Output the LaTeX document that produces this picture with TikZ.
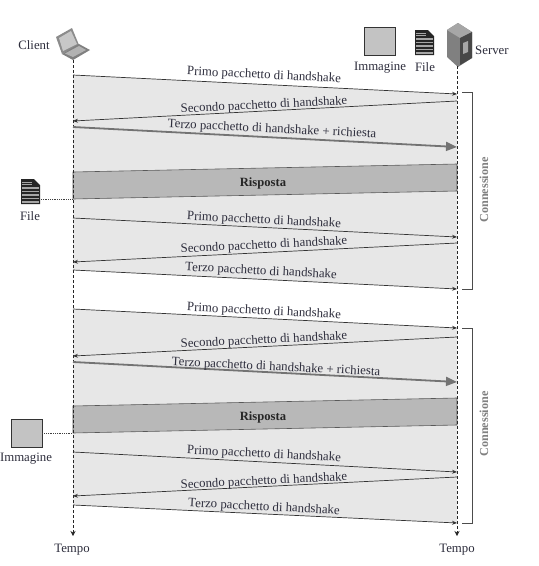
\documentclass[tikz,border=0pt]{standalone}
\usepackage{fontspec}
\setmainfont{Liberation Serif}
\usetikzlibrary{arrows.meta}
\definecolor{lbl}{RGB}{45,45,60}
\definecolor{lightband}{RGB}{231,231,231}
\definecolor{darkband}{RGB}{184,184,184}
\definecolor{imgfill}{RGB}{195,195,195}
\tikzset{
  x=1pt,y=-1pt,
  lab/.style={font=\fontsize{12.8}{14}\selectfont,text=lbl,inner sep=0pt,yshift=-1.5pt},
  msg/.style={draw=black!80,line width=0.7pt,-{Stealth[length=5pt,width=4pt]}},
  bigmsg/.style={draw=black!55,line width=1.8pt,-{Stealth[length=11pt,width=9pt,inset=0pt]}},
  life/.style={draw=black!85,line width=0.8pt,densely dashed},
  link/.style={draw=black!75,line width=0.8pt,densely dotted},
  brace/.style={draw=black!70,line width=0.8pt},
  band/.style={draw=none,fill=lightband},
  dband/.style={draw=black!65,line width=0.6pt,fill=darkband},
  imgbox/.style={draw=black!80,line width=0.9pt,fill=imgfill,minimum width=#1,minimum height=#1*0.9,inner sep=0pt},
  conn/.style={font=\fontsize{12.2}{14}\selectfont\bfseries,text=black!50,rotate=90,inner sep=0pt},
  resp/.style={font=\fontsize{12.6}{14}\selectfont\bfseries,text=black!85,inner sep=0pt,yshift=-1pt},
}
\newcommand{\fileicon}[2]{%
  \fill[black!85] (#1,#2) -- ++(13,0) -- ++(6,6) -- ++(0,19) -- ++(-19,0) -- cycle;
  \foreach \k in {8,11.5,15,18.5,22}{\fill[black!35] (#1+1,#2+\k) rectangle (#1+18,#2+\k+1.6);}
  \foreach \k in {2.5,5}{\fill[black!35] (#1+1,#2+\k) rectangle (#1+11,#2+\k+1);}
}
\begin{document}
\begin{tikzpicture}
\useasboundingbox (0,0) rectangle (539,566);
\fill[white] (0,0) rectangle (539,566);
% end points
\foreach \n/\y in {a/75,b/121,c/127,d/218,e/262,f/270,g/309,h/356,i/362,j/452,k/496,l/505}
  \coordinate (L\n) at (73,\y);
\foreach \n/\y in {a/94,b/101,c/147,d/237,e/243,f/289,g/328,h/337,i/382,j/472,k/477,l/523}
  \coordinate (R\n) at (457,\y);
% bands
\fill[band] (La) -- (Ra) -- (Rf) -- (Lf) -- cycle;
\fill[band] (Lg) -- (Rg) -- (Rl) -- (Ll) -- cycle;
\draw[dband] (73,172) -- (457,164) -- (457,191) -- (73,199) -- cycle;
\draw[dband] (73,406) -- (457,398) -- (457,425) -- (73,433) -- cycle;
\node[resp] (r1) at (263,182) {Risposta};
\node[resp] (r2) at (263,416) {Risposta};
% icons: laptop
\fill[black!45] (56,37) -- (72,28) -- (79,45) -- (62,54) -- cycle;
\fill[black!22] (59,38) -- (71,31) -- (77,44) -- (63,51) -- cycle;
\fill[black!50] (62,54) -- (79,44) -- (90,50) -- (73,60) -- cycle;
\fill[black!30] (65,53.5) -- (79,46) -- (86,50) -- (73,57) -- cycle;
\coordinate (laptop) at (73,60);
% server
\fill[black!50] (447,30) -- (458,23) -- (472,32) -- (472,58) -- (458,67) -- (447,57) -- cycle;
\fill[black!35] (447,30) -- (458,23) -- (472,32) -- (460,38) -- cycle;
\fill[black!72] (460,38) -- (472,32) -- (472,58) -- (460,65) -- cycle;
\fill[black!35] (463,43) -- (468,41) -- (468,52) -- (463,54) -- cycle;
\coordinate (serverfoot) at (457,66);
% lifelines
\coordinate (Lend) at (73,536);
\coordinate (Rend) at (457,536);
\draw[life,-{Stealth[length=5pt,width=5pt]}] (laptop) -- (Lend);
\draw[life,-{Stealth[length=5pt,width=5pt]}] (serverfoot) -- (Rend);
% messages
\draw[msg] (La) -- (Ra);
\draw[msg] (Rb) -- (Lb);
\draw[bigmsg] (Lc) -- (Rc);
\draw[msg] (Ld) -- (Rd);
\draw[msg] (Re) -- (Le);
\draw[msg] (Lf) -- (Rf);
\draw[msg] (Lg) -- (Rg);
\draw[msg] (Rh) -- (Lh);
\draw[bigmsg] (Li) -- (Ri);
\draw[msg] (Lj) -- (Rj);
\draw[msg] (Rk) -- (Lk);
\draw[msg] (Ll) -- (Rl);
% message labels
\node[lab,rotate=-2.8] (m1) at (264,74) {Primo pacchetto di handshake};
\node[lab,rotate=2.8] (m2) at (264,104) {Secondo pacchetto di handshake};
\node[lab,rotate=-2.8] (m3) at (272,128) {Terzo pacchetto di handshake + richiesta};
\node[lab,rotate=-2.8] (m4) at (264,219) {Primo pacchetto di handshake};
\node[lab,rotate=2.8] (m5) at (264,244) {Secondo pacchetto di handshake};
\node[lab,rotate=-2.8] (m6) at (261,270) {Terzo pacchetto di handshake};
\node[lab,rotate=-2.8] (m7) at (264,310) {Primo pacchetto di handshake};
\node[lab,rotate=2.8] (m8) at (264,339) {Secondo pacchetto di handshake};
\node[lab,rotate=-2.8] (m9) at (276,366) {Terzo pacchetto di handshake + richiesta};
\node[lab,rotate=-2.8] (m10) at (264,453) {Primo pacchetto di handshake};
\node[lab,rotate=2.8] (m11) at (264,480) {Secondo pacchetto di handshake};
\node[lab,rotate=-2.8] (m12) at (264,506) {Terzo pacchetto di handshake};
% top labels and documents
\node[lab] (client) at (34,44) {Client};
\node[lab,anchor=west] (server) at (475,49) {Server};
\node[imgbox=31pt,minimum height=28pt] (img1) at (379.5,41) {};
\node[lab] (img1l) at (380,66) {Immagine};
\fileicon{415}{30}
\node[lab] (file1l) at (425,66) {File};
% side documents
\fileicon{21}{179}
\coordinate (fileright) at (41,199);
\node[lab] (file2l) at (30,215) {File};
\coordinate (fileend) at (73,199);
\draw[link] (fileright) -- (fileend);
\node[imgbox=31pt,minimum height=28pt] (img2) at (26.5,433) {};
\node[lab] (img2l) at (26,457) {Immagine};
\coordinate (imgend) at (73,433);
\draw[link] (img2) -- (imgend);
% tempo
\node[lab] (t1) at (72,548) {Tempo};
\node[lab] (t2) at (457,548) {Tempo};
% brackets
\draw[brace] (462,92) -- (472,92) -- (472,289) -- (462,289);
\draw[brace] (462,328) -- (472,328) -- (472,523) -- (462,523);
\node[conn] (c1) at (484,190) {Connessione};
\node[conn] (c2) at (484,424) {Connessione};
\end{tikzpicture}
\end{document}
